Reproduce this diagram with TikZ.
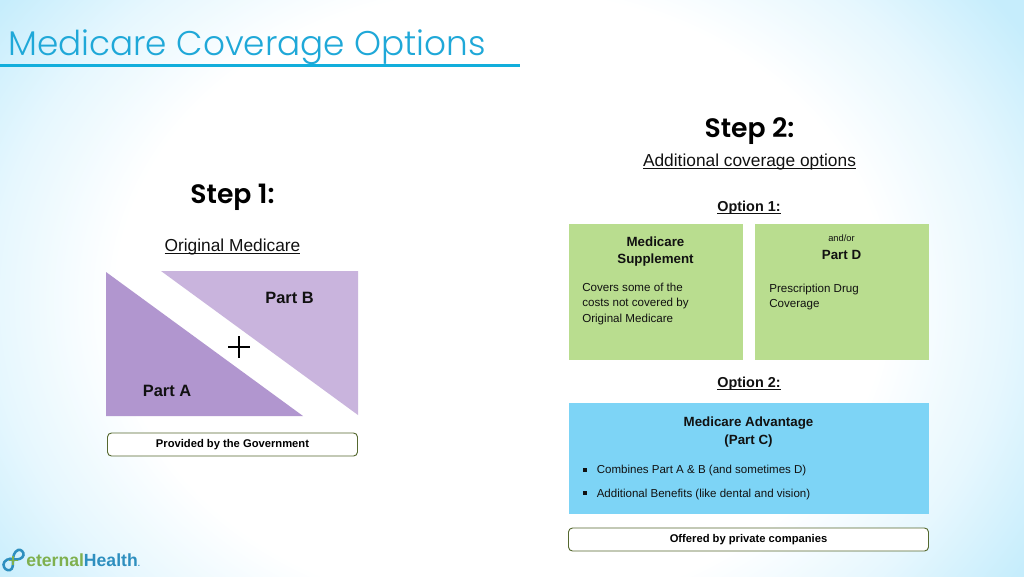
\documentclass[tikz,border=0pt]{standalone}
\usepackage{fontspec}
\setmainfont{Liberation Sans}
\newfontfamily\ttlfont{Poppins Light}
\newfontfamily\stepfont{Poppins SemiBold}
\newfontfamily\logofont{Liberation Sans}
\definecolor{titleblue}{HTML}{1FA8D8}
\definecolor{rulecol}{HTML}{12AEDC}
\definecolor{bgblue}{HTML}{C6EDFC}
\definecolor{bgmid}{HTML}{E6F7FE}
\definecolor{partA}{HTML}{B196CF}
\definecolor{partB}{HTML}{C9B4DD}
\definecolor{greenbox}{HTML}{B9DD8F}
\definecolor{bluebox}{HTML}{7DD4F6}
\definecolor{pillline}{HTML}{55682F}
\definecolor{logogreen}{HTML}{7FB04F}
\definecolor{logoblue}{HTML}{2E8FBF}
\definecolor{ink}{HTML}{111111}
\pgfdeclareradialshading{glow}{\pgfpointorigin}{color(0bp)=(white); color(15.5bp)=(white); color(20.5bp)=(bgmid); color(25bp)=(bgblue); color(50bp)=(bgblue)}
\tikzset{
 x=0.75pt,y=-0.75pt,
 lbl/.style={inner sep=0pt,text=ink,font=\fontsize{10}{13.4}\selectfont\bfseries,align=center},
 body/.style={inner sep=0pt,text=ink,font=\fontsize{8.7}{11.6}\selectfont,align=left,anchor=north west},
 stepttl/.style={inner sep=0pt,text=black,font=\fontsize{20}{24}\stepfont},
 sub/.style={inner sep=0pt,text=ink,font=\fontsize{13}{15}\selectfont},
 opt/.style={inner sep=0pt,text=ink,font=\fontsize{10.8}{13}\selectfont\bfseries},
 pill/.style={draw=pillline,line width=0.7pt,fill=white,rounded corners=3pt,inner sep=0pt,text=black,font=\fontsize{8.4}{11}\selectfont\bfseries},
 partlbl/.style={inner sep=0pt,text=ink,font=\fontsize{12.3}{14}\selectfont\bfseries},
 bullet/.style={inner sep=0pt,anchor=west,text=ink,font=\fontsize{8.65}{11}\selectfont},
}
\begin{document}
\begin{tikzpicture}
\useasboundingbox (0,0) rectangle (1024,576);
\begin{scope}
\clip (0,0) rectangle (1024,576);
\shade[shading=glow] (-120,-200) rectangle (1120,800);
\end{scope}
% title
\node[anchor=base west,inner sep=0pt,text=titleblue,font=\fontsize{25.7}{30}\ttlfont] (title) at (8,55.5) {Medicare Coverage Options};
\coordinate (ruleL) at (0,65.5);
\coordinate (ruleR) at (520,65.5);
\draw[rulecol,line width=1.7pt] (ruleL) -- (ruleR);
% step 1
\node[stepttl] (s1) at (232.5,197) {Step 1:};
\node[sub] (om) at (232.5,246.5) {\underbar{Original Medicare}};
\fill[partA] (106,272) -- (303,416) -- (106,416) -- cycle;
\fill[partB] (161,271) -- (358,271) -- (358,415) -- cycle;
\node[partlbl] (pb) at (289.5,297.5) {Part B};
\node[partlbl] (pa) at (167,390.5) {Part A};
\draw[black,line width=1.8pt] (228,347) -- (250,347) (239,336) -- (239,358);
\node[pill,minimum width=187.5pt,minimum height=17.25pt] (gov) at (232.5,444.5) {\raisebox{-0.8pt}{Provided by the Government}};
% step 2
\node[stepttl] (s2) at (749.5,131.5) {Step 2:};
\node[sub] (ac) at (749.5,161.5) {\underbar{Additional coverage options}};
\node[opt] (o1) at (749,208) {\underbar{Option 1:}};
\fill[greenbox] (568.5,224) rectangle (743,359.5);
\fill[greenbox] (755,224) rectangle (929,359.5);
\node[lbl] (ms) at (655.5,251.5) {Medicare\\Supplement};
\node[body] (msb) at (582,282.5) {Covers some of the\\costs not covered by\\Original Medicare};
\node[inner sep=0pt,text=ink,font=\fontsize{7}{9}\selectfont] (ao) at (841.5,238.5) {and/or};
\node[lbl] (pd) at (841.5,255) {Part D};
\node[body] (pdb) at (769,283.5) {Prescription Drug\\Coverage};
\node[opt] (o2) at (749,384) {\underbar{Option 2:}};
\fill[bluebox] (568.5,403) rectangle (929,514);
\node[lbl] (ma) at (748.5,432) {Medicare Advantage\\(Part C)};
\node[bullet] (b1) at (596.5,471) {Combines Part A \& B (and sometimes D)};
\node[bullet] (b2) at (596.5,494.5) {Additional Benefits (like dental and vision)};
\fill[ink] (582.5,467.5) rectangle (587,472);
\fill[ink] (582.5,490.5) rectangle (587,495);
\node[pill,minimum width=270pt,minimum height=17.25pt] (pc) at (748.5,539.5) {\raisebox{-0.8pt}{Offered by private companies}};
% logo
\draw[logoblue,line width=1.9pt] (14,559.5) .. controls (9,557) and (3.5,561) .. (3.5,564.5) .. controls (3.5,568.5) and (7,571) .. (10,570) .. controls (13,569) and (13,565) .. (13,561);
\draw[logoblue,line width=1.9pt] (13,561) .. controls (13,556) and (14,552) .. (18,550) .. controls (21,549) and (24,552) .. (23.5,555) .. controls (23,558.5) and (18,560) .. (14,559.5);
\draw[logogreen,line width=1.4pt] (9,560.5) -- (18,560.5) (13,556) -- (13,565);
\node[inner sep=0pt,anchor=base west,font=\fontsize{13.2}{16}\logofont\bfseries] (logo) at (26,566) {\textcolor{logogreen}{eternal}\textcolor{logoblue}{Health}\textcolor{logoblue}{\fontsize{6}{7}\selectfont.}};
\end{tikzpicture}
\end{document}
